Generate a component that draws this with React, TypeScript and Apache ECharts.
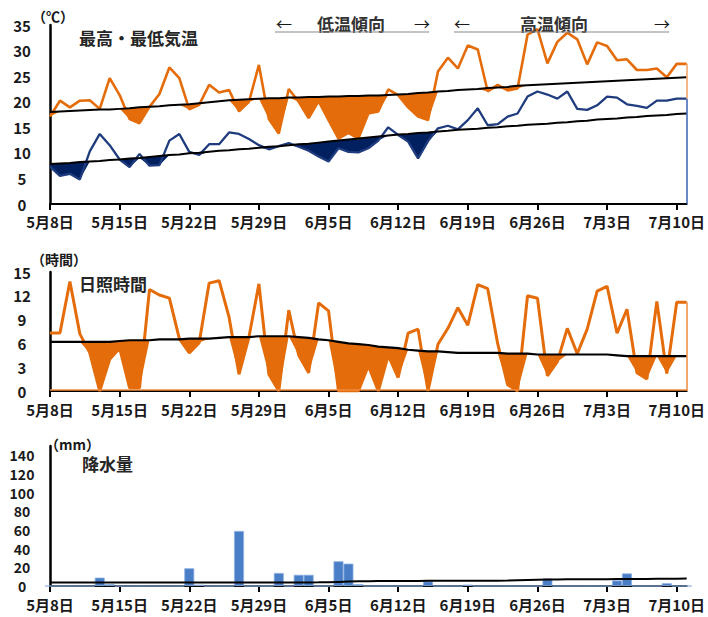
import React, { useEffect, useRef } from "react";
import * as echarts from "echarts";

// categories: 5/8 .. 7/11 (65 days)
const dates: string[] = [
  ...Array.from({ length: 24 }, (_, i) => `5月${i + 8}日`),
  ...Array.from({ length: 30 }, (_, i) => `6月${i + 1}日`),
  ...Array.from({ length: 11 }, (_, i) => `7月${i + 1}日`),
];

// 最高気温 (℃)
const highT = [
  17.1, 20.2, 18.9, 20.2, 20.3, 18.6, 24.6, 21.3, 16.6, 15.8,
  19.0, 21.5, 26.7, 24.6, 18.5, 19.4, 23.3, 21.8, 22.3, 18.1,
  20.0, 27.2, 16.6, 13.8, 22.5, 20.0, 16.8, 20.1, 16.4, 12.8,
  13.9, 12.8, 17.7, 18.1, 22.4, 21.3, 18.9, 17.1, 16.4, 25.9,
  28.6, 26.5, 31.0, 30.2, 22.0, 23.3, 22.2, 22.6, 33.1, 34.2,
  27.5, 31.7, 33.5, 32.2, 27.3, 31.6, 30.9, 28.1, 28.3, 26.2,
  26.2, 26.5, 24.8, 27.4, 27.4,
];
// 最低気温 (℃)
const lowT = [
  7.3, 5.5, 5.9, 4.8, 10.3, 13.7, 11.5, 8.7, 7.2, 9.8,
  7.5, 7.6, 12.4, 13.7, 10.2, 9.6, 11.7, 11.7, 14.0, 13.7,
  12.7, 11.5, 10.7, 11.3, 11.9, 11.2, 10.4, 9.3, 8.3, 10.9,
  10.2, 10.1, 10.9, 12.4, 15.0, 13.5, 12.2, 8.9, 12.3, 14.8,
  15.3, 14.6, 16.4, 18.7, 15.4, 15.6, 17.1, 17.7, 21.0, 22.0,
  21.4, 20.6, 22.0, 18.6, 18.4, 19.3, 21.0, 20.8, 19.5, 19.2,
  18.8, 20.2, 20.2, 20.6, 20.6,
];
// 平年値 最高気温
const normHigh = [
  18.0, 18.1, 18.2, 18.3, 18.4, 18.5, 18.5, 18.6, 18.7, 18.9,
  19.0, 19.1, 19.3, 19.4, 19.5, 19.7, 19.9, 20.1, 20.3, 20.4,
  20.5, 20.6, 20.7, 20.7, 20.8, 20.8, 20.9, 20.9, 21.0, 21.0,
  21.1, 21.1, 21.2, 21.2, 21.3, 21.4, 21.5, 21.7, 21.8, 22.0,
  22.1, 22.3, 22.4, 22.5, 22.7, 22.8, 22.9, 23.1, 23.2, 23.3,
  23.4, 23.5, 23.6, 23.7, 23.8, 23.9, 24.0, 24.1, 24.2, 24.3,
  24.4, 24.5, 24.6, 24.7, 24.8,
];
// 平年値 最低気温
const normLow = [
  7.8, 7.9, 8.0, 8.2, 8.3, 8.4, 8.6, 8.7, 8.9, 9.0,
  9.2, 9.4, 9.6, 9.7, 9.9, 10.0, 10.2, 10.4, 10.5, 10.7,
  10.8, 11.0, 11.2, 11.3, 11.5, 11.7, 11.8, 12.0, 12.2, 12.4,
  12.6, 12.8, 13.0, 13.2, 13.4, 13.6, 13.7, 13.9, 14.0, 14.2,
  14.3, 14.5, 14.6, 14.7, 14.9, 15.0, 15.2, 15.3, 15.5, 15.6,
  15.7, 15.9, 16.0, 16.2, 16.3, 16.5, 16.6, 16.7, 16.9, 17.0,
  17.2, 17.3, 17.4, 17.6, 17.7,
];
// 日照時間 (時間)
const sunshine = [
  7.3, 7.3, 13.8, 7.2, 4.8, 0.0, 4.0, 5.4, 0.4, 0.4,
  12.8, 12.1, 11.7, 6.6, 4.8, 6.1, 13.6, 13.9, 9.3, 2.1,
  6.8, 13.5, 2.1, 0.0, 10.2, 4.5, 2.3, 11.1, 10.1, 0.0,
  0.0, 0.0, 3.2, 0.0, 4.5, 1.7, 7.3, 7.8, 0.0, 5.9,
  7.9, 10.5, 8.3, 13.4, 12.9, 6.0, 0.8, 0.0, 12.0, 11.7,
  1.9, 3.7, 7.9, 4.7, 7.8, 12.6, 13.2, 7.3, 10.3, 2.3,
  1.5, 11.3, 2.2, 11.2, 11.2,
];
// 平年値 日照時間
const normSun = [
  6.2, 6.2, 6.2, 6.2, 6.2, 6.2, 6.2, 6.3, 6.4, 6.4,
  6.4, 6.5, 6.5, 6.5, 6.6, 6.6, 6.6, 6.7, 6.8, 6.8,
  6.8, 6.9, 6.9, 6.9, 6.9, 6.8, 6.7, 6.5, 6.4, 6.2,
  6.0, 5.9, 5.8, 5.6, 5.5, 5.4, 5.2, 5.1, 5.0, 5.0,
  4.9, 4.8, 4.8, 4.8, 4.8, 4.8, 4.7, 4.7, 4.7, 4.6,
  4.6, 4.6, 4.6, 4.6, 4.6, 4.6, 4.6, 4.5, 4.4, 4.4,
  4.4, 4.4, 4.4, 4.4, 4.4,
];
// 降水量 (mm)
const precip = [
  0, 0, 0, 0, 0, 9, 2, 0, 0, 0,
  0, 0, 0, 0, 19, 1.5, 0, 0, 0, 59,
  0, 0, 0, 14, 0, 12, 12, 0, 0, 26.5,
  24, 2, 0, 0, 0, 0, 0, 0, 5, 0,
  0, 0, 1.5, 0, 0, 0, 0, 0, 0, 0,
  8, 0, 0, 0, 0, 0, 0, 6, 13.5, 0,
  0, 0, 3, 0, 0,
];
// 平年値 降水量
const normPrecip = [
  3.8, 3.8, 3.8, 3.8, 3.8, 3.8, 3.8, 3.8, 3.8, 3.8,
  3.8, 3.8, 3.8, 3.8, 3.8, 3.8, 3.8, 3.8, 3.8, 3.8,
  3.8, 3.8, 3.8, 3.8, 3.8, 3.8, 3.8, 3.9, 4.1, 4.4,
  4.7, 5.0, 5.2, 5.3, 5.4, 5.4, 5.4, 5.4, 5.5, 5.5,
  5.5, 5.5, 5.5, 5.5, 5.6, 5.7, 5.9, 6.2, 6.5, 6.7,
  6.9, 7.0, 7.1, 7.2, 7.2, 7.3, 7.3, 7.4, 7.4, 7.5,
  7.6, 7.7, 7.8, 7.9, 8.0,
];

const ORANGE = "#E46C0A";
const NAVY = "#002060";
const BLUE = "#1F3C7E";
const BAR = "#4A7EC6";
const FONT = "Noto Sans CJK JP";
const TXT = "#1a1a1a";

const lower = (a: number[], n: number[]) => a.map((v, i) => Math.min(v, n[i]));
const gap = (a: number[], n: number[]) =>
  n.map((v, i) => Math.round((v - Math.min(a[i], v)) * 100) / 100);

export default function App() {
  const ref = useRef<HTMLDivElement>(null);
  useEffect(() => {
    if (!ref.current) return;
    const chart = echarts.init(ref.current, undefined, { renderer: "svg" });

    const grids = [
      { left: 50, right: 21, top: 25, height: 179 },
      { left: 50, right: 21, top: 272, height: 119 },
      { left: 50, right: 21, top: 446, height: 140 },
    ];
    const labelMargins = [10, 11, 11];
    const xAxes = grids.map((_, i) => ({
      type: "category",
      gridIndex: i,
      data: dates,
      boundaryGap: false,
      axisLine: { lineStyle: { color: "#000", width: 2 } },
      axisTick: { interval: 6, length: 6, lineStyle: { color: "#000", width: 2 } },
      axisLabel: {
        interval: 6,
        margin: labelMargins[i],
        color: TXT,
        fontSize: 15,
        fontWeight: "bold",
        fontFamily: FONT,
      },
      splitLine: { show: false },
    }));
    const yBase = {
      axisLine: { show: true, lineStyle: { color: "#000", width: 2.5 } },
      axisTick: { show: false },
      splitLine: { show: false },
      axisLabel: {
        align: "center",
        margin: 28,
        color: TXT,
        fontSize: 15,
        fontWeight: "bold",
        fontFamily: FONT,
      },
    };
    const yAxes = [
      { ...yBase, type: "value", gridIndex: 0, min: 0, max: 35, interval: 5 },
      { ...yBase, type: "value", gridIndex: 1, min: 0, max: 15, interval: 3 },
      {
        ...yBase,
        type: "value",
        gridIndex: 2,
        min: 0,
        max: 150,
        interval: 20,
        axisLabel: { ...yBase.axisLabel, fontSize: 14, lineHeight: 15, showMaxLabel: false },
      },
    ];

    const hidden = { symbol: "none", lineStyle: { width: 0, opacity: 0 }, silent: true };
    const last = dates.length - 1;

    const series: any[] = [
      // temperature fills
      { type: "line", xAxisIndex: 0, yAxisIndex: 0, stack: "hi", data: lower(highT, normHigh), ...hidden, z: 1 },
      { type: "line", xAxisIndex: 0, yAxisIndex: 0, stack: "hi", data: gap(highT, normHigh), ...hidden, areaStyle: { color: ORANGE, opacity: 1 }, z: 1 },
      { type: "line", xAxisIndex: 0, yAxisIndex: 0, stack: "lo", data: lower(lowT, normLow), ...hidden, z: 1 },
      { type: "line", xAxisIndex: 0, yAxisIndex: 0, stack: "lo", data: gap(lowT, normLow), ...hidden, areaStyle: { color: NAVY, opacity: 1 }, z: 1 },
      {
        type: "line", xAxisIndex: 0, yAxisIndex: 0, data: highT, symbol: "none",
        lineStyle: { color: ORANGE, width: 2.6 }, z: 3,
        markLine: {
          silent: true, symbol: "none", label: { show: false },
          lineStyle: { color: "#F0A060", width: 1.5, type: "solid" },
          data: [[{ coord: [dates[last], lowT[last]] }, { coord: [dates[last], highT[last]] }]],
        },
      },
      {
        type: "line", xAxisIndex: 0, yAxisIndex: 0, data: lowT, symbol: "none",
        lineStyle: { color: BLUE, width: 2.3 }, z: 3,
        markLine: {
          silent: true, symbol: "none", label: { show: false },
          lineStyle: { color: "#3A62B0", width: 1.5, type: "solid" },
          data: [[{ coord: [dates[last], 0] }, { coord: [dates[last], lowT[last]] }]],
        },
      },
      { type: "line", xAxisIndex: 0, yAxisIndex: 0, data: normHigh, symbol: "none", lineStyle: { color: "#000", width: 2 }, z: 4 },
      { type: "line", xAxisIndex: 0, yAxisIndex: 0, data: normLow, symbol: "none", lineStyle: { color: "#000", width: 2 }, z: 4 },

      // sunshine
      { type: "line", xAxisIndex: 1, yAxisIndex: 1, stack: "sun", data: lower(sunshine, normSun), ...hidden, z: 1 },
      { type: "line", xAxisIndex: 1, yAxisIndex: 1, stack: "sun", data: gap(sunshine, normSun), ...hidden, areaStyle: { color: ORANGE, opacity: 1 }, z: 1 },
      {
        type: "line", xAxisIndex: 1, yAxisIndex: 1, data: sunshine, symbol: "none",
        lineStyle: { color: ORANGE, width: 3 }, z: 3,
        markLine: {
          silent: true, symbol: "none", label: { show: false },
          lineStyle: { color: "#EE8A3C", width: 1.5, type: "solid" },
          data: [
            [{ coord: [dates[0], 0.15] }, { coord: [dates[last], 0.15] }],
            [{ coord: [dates[last], 0] }, { coord: [dates[last], sunshine[last]] }],
          ],
        },
      },
      { type: "line", xAxisIndex: 1, yAxisIndex: 1, data: normSun, symbol: "none", lineStyle: { color: "#000", width: 2.2 }, z: 4 },

      // precipitation
      {
        type: "bar", xAxisIndex: 2, yAxisIndex: 2, data: precip, barWidth: 10,
        itemStyle: { color: BAR, borderColor: "#8FB2E2", borderWidth: 0.8 }, z: 2,
      },
      { type: "line", xAxisIndex: 2, yAxisIndex: 2, data: normPrecip, symbol: "none", lineStyle: { color: "#000", width: 2 }, z: 4 },
    ];

    const t = (text: string, x: number, y: number, size: number, weight: string, color = TXT) => ({
      type: "text",
      x,
      y,
      z: 10,
      style: { text, fontSize: size, fontWeight: weight, fontFamily: FONT, fill: color, textVerticalAlign: "middle" },
    });
    const graphic: any[] = [
      t("（℃）", 32, 16, 14, "bold"),
      t("最高・最低気温", 79, 37, 17, "bold", "#262626"),
      t("←", 276, 23, 16, "normal"),
      t("低温傾向", 317, 23, 17, "bold", "#333"),
      t("→", 414, 23, 16, "normal"),
      { type: "line", shape: { x1: 275, y1: 32, x2: 429, y2: 32 }, style: { stroke: "#8a8a8a", lineWidth: 1.2 }, z: 10 },
      t("←", 454, 23, 16, "normal"),
      t("高温傾向", 520, 23, 17, "bold", "#333"),
      t("→", 654, 23, 16, "normal"),
      { type: "line", shape: { x1: 454, y1: 32, x2: 669, y2: 32 }, style: { stroke: "#8a8a8a", lineWidth: 1.2 }, z: 10 },
      t("（時間）", 31, 259, 14, "bold"),
      t("日照時間", 79, 283, 17, "bold", "#262626"),
      t("（mm）", 45, 444, 14, "bold"),
      t("降水量", 82, 463, 17, "bold", "#262626"),
    ];

    chart.setOption({
      animation: false,
      grid: grids,
      xAxis: xAxes,
      yAxis: yAxes,
      series,
      graphic,
    });
    return () => chart.dispose();
  }, []);

  return (
    <div
      ref={ref}
      style={{ position: "fixed", left: 0, top: 0, width: 708, height: 617, background: "#fff" }}
    />
  );
}
